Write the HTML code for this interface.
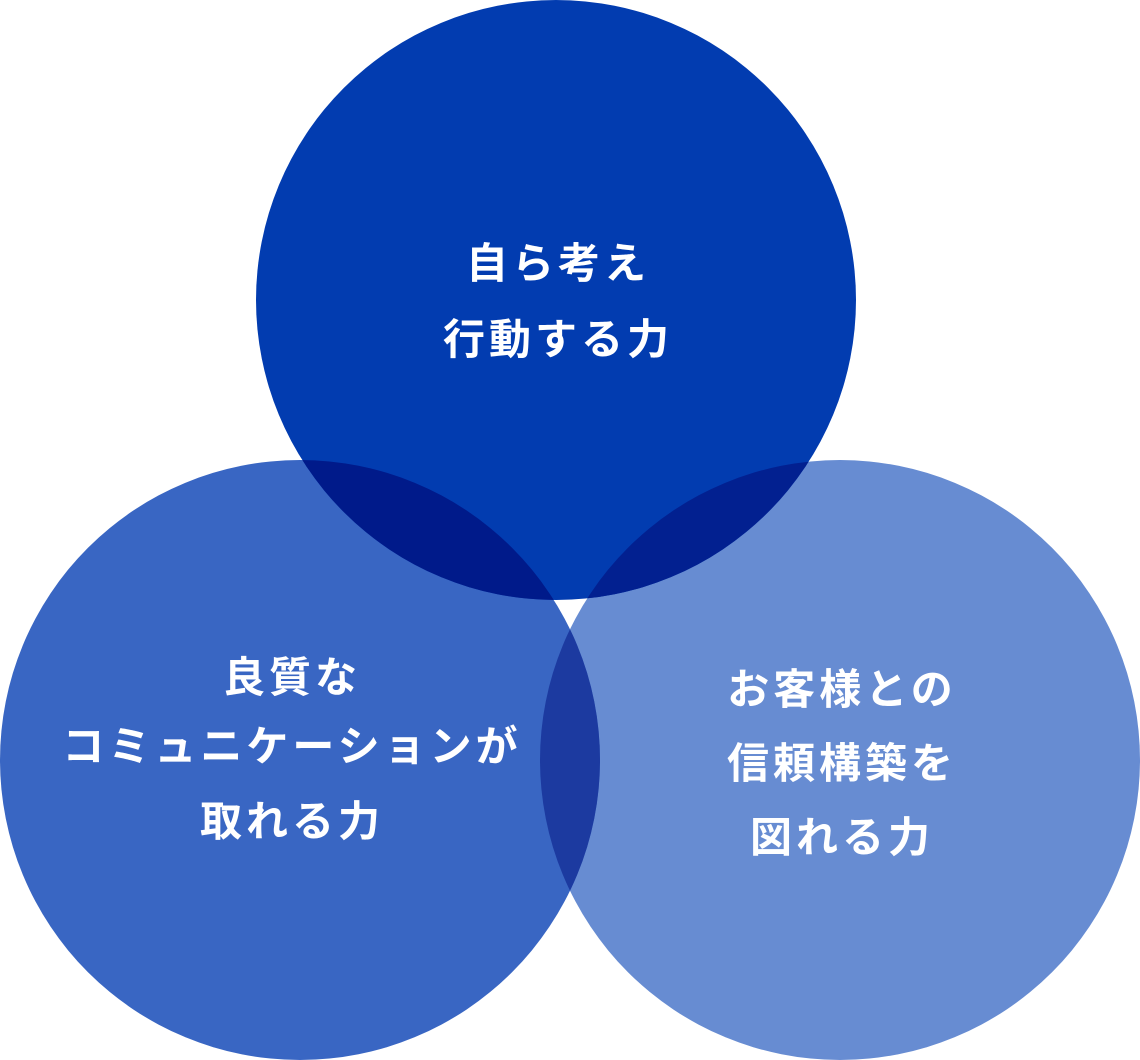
<!DOCTYPE html>
<html><head><meta charset="utf-8"><style>
html,body{margin:0;padding:0;background:#fff;}
svg{display:block}
text{font-family:"Liberation Sans","Noto Sans CJK JP",sans-serif;font-weight:bold;fill:#fff;font-size:42px;text-anchor:middle;letter-spacing:4px}
</style></head><body>
<svg width="1140" height="1060" viewBox="0 0 1140 1060">
<defs>
<clipPath id="cT"><circle cx="556" cy="300" r="300"/></clipPath>
<clipPath id="cL"><circle cx="300" cy="760" r="300"/></clipPath>
<clipPath id="cR"><circle cx="840" cy="760" r="300"/></clipPath>
</defs>
<circle cx="840" cy="760" r="300" fill="#678cd2"/>
<circle cx="300" cy="760" r="300" fill="#3966c3"/>
<circle cx="556" cy="300" r="300" fill="#023cb0"/>
<g clip-path="url(#cL)"><circle cx="840" cy="760" r="300" fill="#1c3aa0"/></g>
<g clip-path="url(#cT)"><circle cx="300" cy="760" r="300" fill="#001a8a"/></g>
<g clip-path="url(#cT)"><circle cx="840" cy="760" r="300" fill="#022090"/></g>
<g clip-path="url(#cT)"><g clip-path="url(#cL)"><circle cx="840" cy="760" r="300" fill="#ffffff"/></g></g>
<text x="558" y="278">自ら考え</text>
<text x="558" y="354">行動する力</text>
<text x="292" y="692">良質な</text>
<text x="292" y="761">コミュニケーションが</text>
<text x="292" y="836">取れる力</text>
<text x="842" y="704">お客様との</text>
<text x="842" y="778">信頼構築を</text>
<text x="842" y="852">図れる力</text>
</svg>
</body></html>
